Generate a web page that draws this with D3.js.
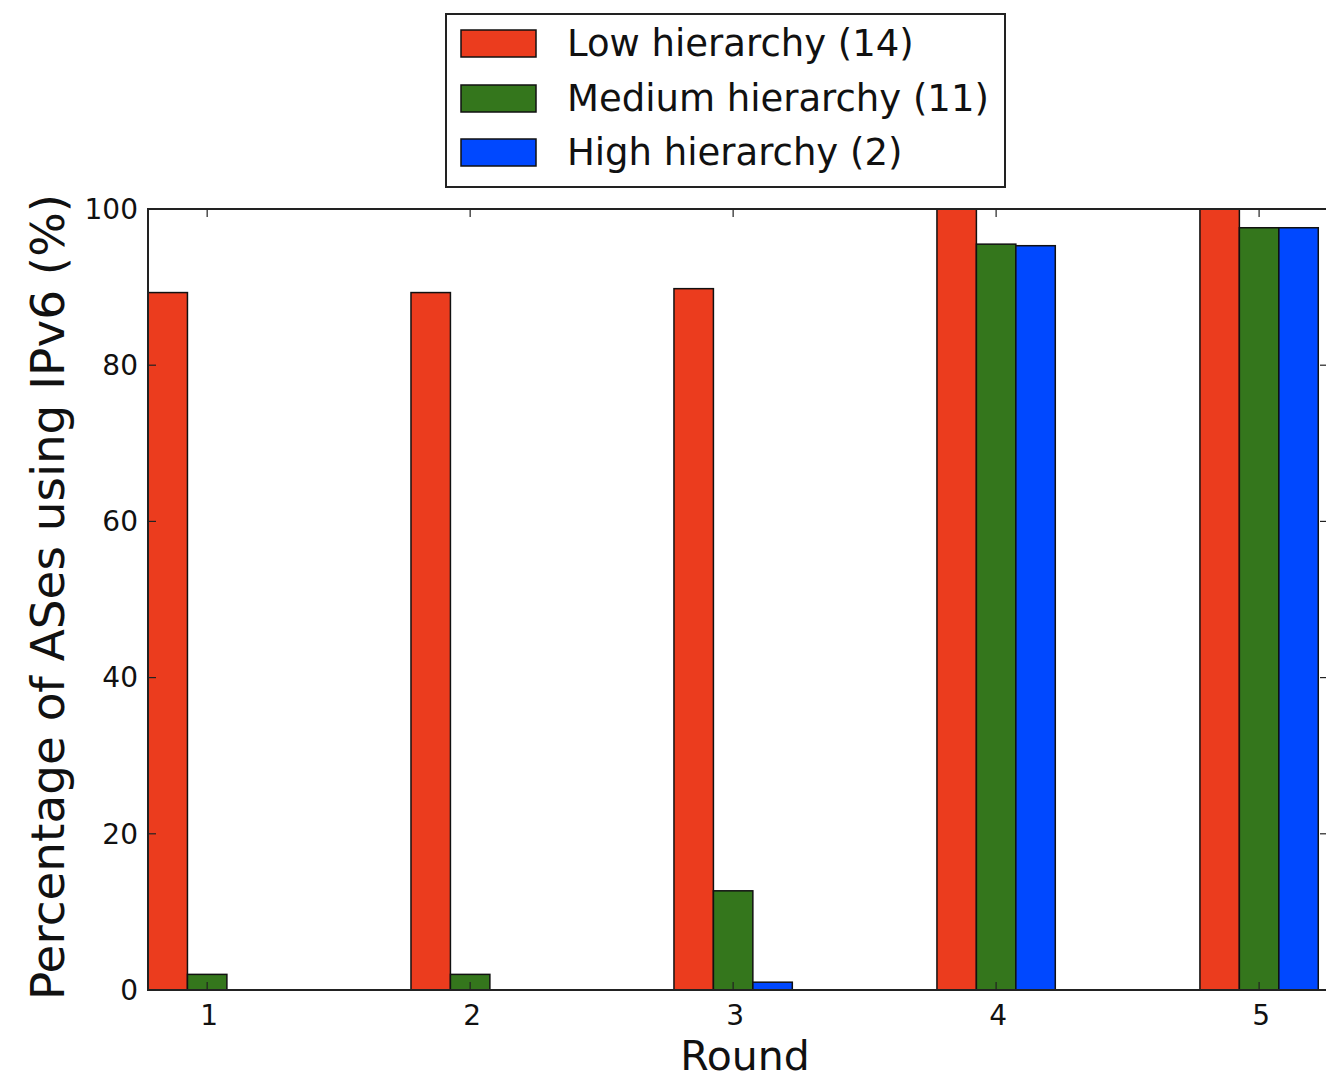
<!DOCTYPE html>
<html>
<head>
<meta charset="utf-8">
<script src="https://cdn.jsdelivr.net/npm/d3@7"></script>
<style>
  body { margin: 0; background: #fff; }
  text { font-family: "DejaVu Sans", sans-serif; fill: #111; }
</style>
</head>
<body>
<svg width="1326" height="1081"></svg>
<script>
const rounds = [1, 2, 3, 4, 5];
const seriesNames = ['Low hierarchy (14)', 'Medium hierarchy (11)', 'High hierarchy (2)'];
const lowValues = [89.3, 89.3, 89.8, 100, 100];
const mediumValues = [2.0, 2.0, 12.7, 95.5, 97.6];
const highValues = [0, 0, 1.0, 95.3, 97.6];
const yTicks = [0, 20, 40, 60, 80, 100];
const colors = ['#eb3c1e', '#34761c', '#0048ff'];

const svg = d3.select('svg');
const margin = { left: 148, top: 209, right: 1328, bottom: 990 };

// bar width in data units, bars offset around each round
const barWidth = 0.15;
const offsets = [-barWidth, 0, barWidth];

const x = d3.scaleLinear()
  .domain([1 - 0.225, 5 + 0.262])
  .range([margin.left, margin.right]);

const y = d3.scaleLinear()
  .domain([0, 100])
  .range([margin.bottom, margin.top]);

const series = [lowValues, mediumValues, highValues];

// bars
series.forEach((vals, s) => {
  svg.append('g')
    .selectAll('rect')
    .data(vals)
    .join('rect')
    .attr('x', (d, i) => x(rounds[i] + offsets[s] - barWidth / 2))
    .attr('width', x(1 + barWidth) - x(1))
    .attr('y', (d) => y(d))
    .attr('height', (d) => y(0) - y(d))
    .attr('fill', colors[s])
    .attr('stroke', '#111')
    .attr('stroke-width', 1.5);
});

// frame
svg.append('rect')
  .attr('x', margin.left)
  .attr('y', margin.top)
  .attr('width', margin.right - margin.left)
  .attr('height', margin.bottom - margin.top)
  .attr('fill', 'none')
  .attr('stroke', '#222')
  .attr('stroke-width', 2);

// inward ticks on all four sides
const tickLen = 8;
const ticks = svg.append('g').attr('stroke', '#222').attr('stroke-width', 1.2);
yTicks.forEach((t) => {
  ticks.append('line').attr('x1', margin.left).attr('x2', margin.left + tickLen)
    .attr('y1', y(t)).attr('y2', y(t));
  ticks.append('line').attr('x1', margin.right).attr('x2', margin.right - tickLen)
    .attr('y1', y(t)).attr('y2', y(t));
});
rounds.forEach((r) => {
  ticks.append('line').attr('x1', x(r)).attr('x2', x(r))
    .attr('y1', margin.bottom).attr('y2', margin.bottom - tickLen);
  ticks.append('line').attr('x1', x(r)).attr('x2', x(r))
    .attr('y1', margin.top).attr('y2', margin.top + tickLen);
});

// tick labels
svg.append('g')
  .selectAll('text')
  .data(yTicks)
  .join('text')
  .attr('x', margin.left - 10)
  .attr('y', (d) => y(d))
  .attr('dy', '0.35em')
  .attr('text-anchor', 'end')
  .style('font-size', '28px')
  .text((d) => d);

svg.append('g')
  .selectAll('text')
  .data(rounds)
  .join('text')
  .attr('x', (d) => x(d) + 2)
  .attr('y', margin.bottom + 35)
  .attr('text-anchor', 'middle')
  .style('font-size', '28px')
  .text((d) => d);

// axis titles
svg.append('text')
  .attr('x', 745)
  .attr('y', 1070)
  .attr('text-anchor', 'middle')
  .style('font-size', '41px')
  .text('Round');

svg.append('text')
  .attr('transform', 'translate(64, 597) rotate(-90)')
  .attr('text-anchor', 'middle')
  .attr('textLength', 806)
  .attr('lengthAdjust', 'spacingAndGlyphs')
  .style('font-size', '46px')
  .text('Percentage of ASes using IPv6 (%)');

// legend
const legend = svg.append('g');
legend.append('rect')
  .attr('x', 446).attr('y', 14)
  .attr('width', 559).attr('height', 173)
  .attr('fill', '#fff')
  .attr('stroke', '#222')
  .attr('stroke-width', 2);

const rowY = [43, 98, 152];
seriesNames.forEach((name, i) => {
  legend.append('rect')
    .attr('x', 461).attr('y', rowY[i] - 13)
    .attr('width', 75).attr('height', 27)
    .attr('fill', colors[i])
    .attr('stroke', '#111')
    .attr('stroke-width', 1.5);
  legend.append('text')
    .attr('x', 567).attr('y', rowY[i])
    .attr('dy', '0.36em')
    .style('font-size', '37px')
    .text(name);
});
</script>
</body>
</html>
